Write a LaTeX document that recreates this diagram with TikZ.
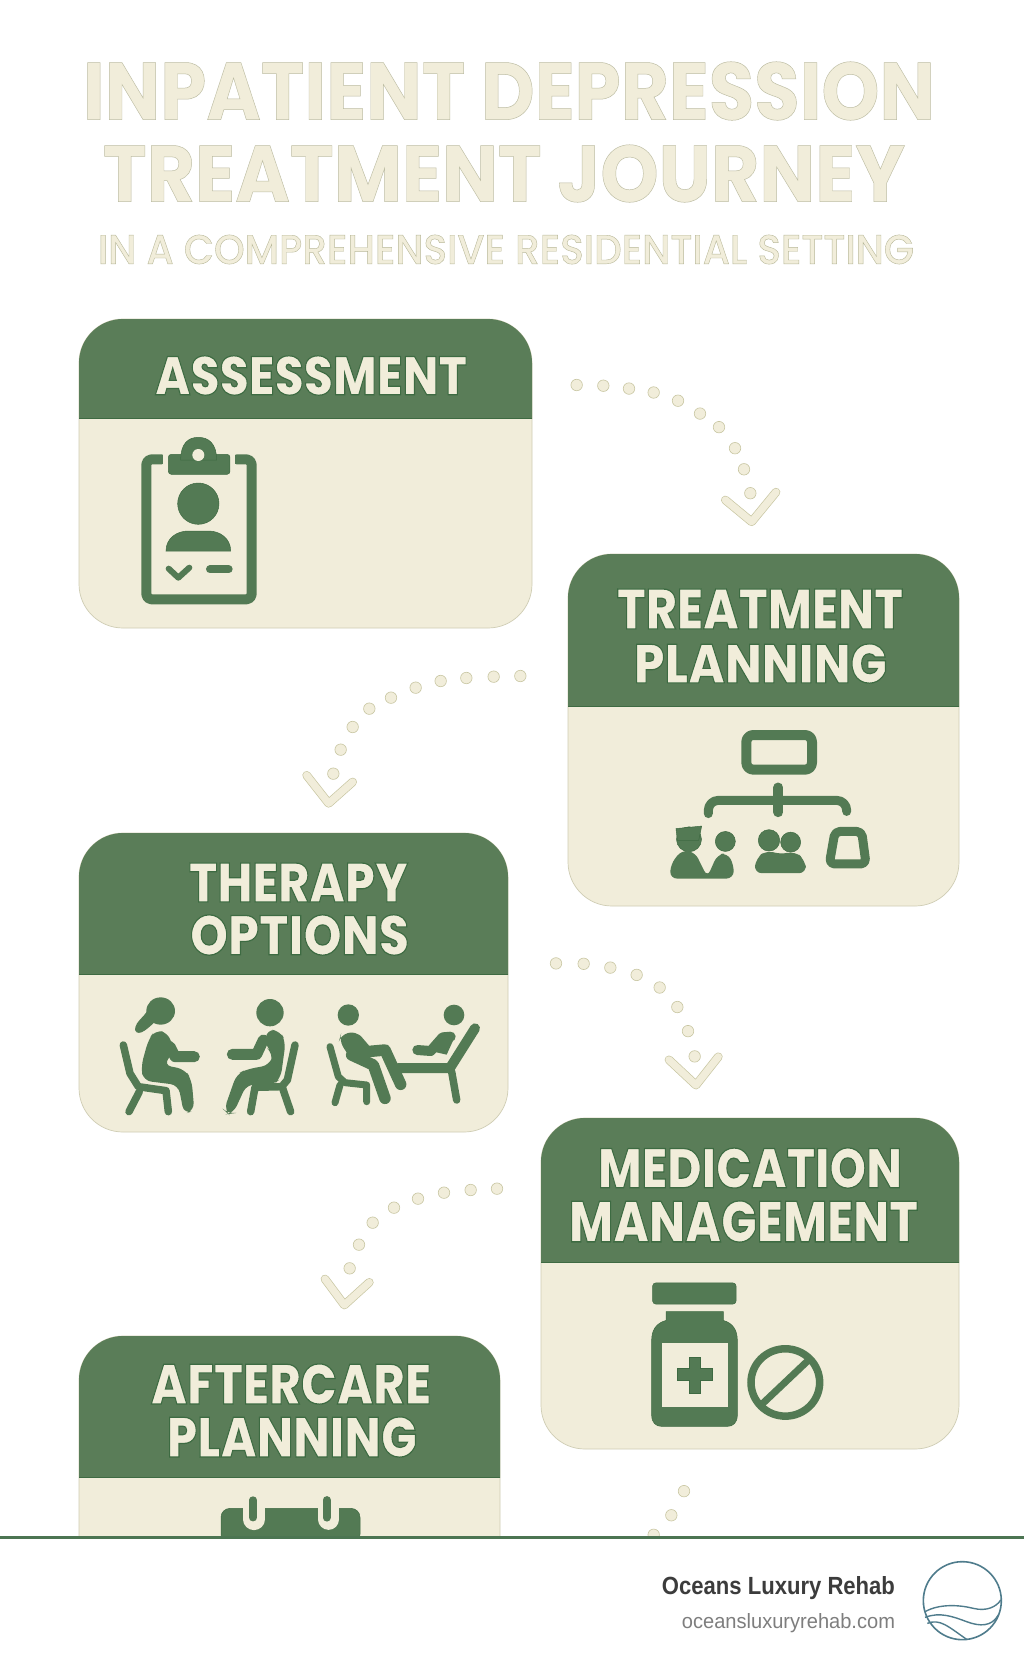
\documentclass[tikz,border=0pt]{standalone}
\usepackage{fontspec}
\usepackage{graphicx}
\setmainfont{Poppins}
\newfontfamily\heavyfont{Poppins ExtraBold}
\newfontfamily\medfont{Poppins Medium}
\newfontfamily\footfont{Liberation Sans}
\definecolor{cream}{HTML}{F1EDDA}
\definecolor{hgreen}{HTML}{5A7D58}
\definecolor{igreen}{HTML}{537A54}
\definecolor{dgreen}{HTML}{3E6A42}
\definecolor{edgeline}{HTML}{CFCDB4}
\definecolor{dotedge}{HTML}{C8C6A2}
\definecolor{footline}{HTML}{4C7552}
\definecolor{inkdark}{HTML}{3C3C3C}
\definecolor{inkgrey}{HTML}{7E7E7E}
\definecolor{logoblue}{HTML}{4F7C8C}
\newcommand{\olhead}[1]{{\color{cream}\special{pdf:code 2 Tr 0.22 w 0.24 0.42 0.26 RG}#1\special{pdf:code 0 Tr}}}
\newcommand{\oltitle}[1]{{\color{cream}\special{pdf:code 2 Tr 0.06 w 0.74 0.74 0.64 RG}#1\special{pdf:code 0 Tr}}}
\newcommand{\olsub}[1]{{\color{cream}\special{pdf:code 2 Tr 0.1 w 0.72 0.72 0.6 RG}#1\special{pdf:code 0 Tr}}}
\newcommand{\fitlabel}[6]{%
  \pgfmathsetmacro\fitw{#4-#2}\pgfmathsetmacro\fith{#5-#3}%
  \node[textfit] (#1) at ({(#2+#4)/2},{(#3+#5)/2}) {\resizebox{\fitw pt}{\fith pt}{#6}};}
\newcommand{\cardbox}[5]{%
  \fill[cream,draw=edgeline,line width=.7pt,rounded corners=44pt] (#1,#2) rectangle (#3,#4);
  \begin{scope}
    \clip (#1-1,#2-1) rectangle (#3+1,#5);
    \fill[hgreen,rounded corners=44pt] (#1,#2) rectangle (#3,#4);
  \end{scope}
  \draw[dgreen,line width=1pt] (#1,#5) -- (#3,#5);}
\tikzset{
  textfit/.style={inner sep=0pt,outer sep=0pt},
  trail/.style={circle,fill=cream,draw=dotedge,line width=.6pt,minimum size=11.5pt,inner sep=0pt},
  chevout/.style={draw=dotedge,line width=8.6pt,line cap=round,line join=round},
  chevin/.style={draw=cream,line width=7.2pt,line cap=round,line join=round},
  zoomat/.style n args={3}{xshift=#1pt,yshift=-#2pt,x=0.33333pt,y=-#3pt},
  icon/.style={fill=igreen,draw=dgreen,line width=.5pt},
  iconline/.style={draw=igreen,line cap=round,line join=round},
}
\begin{document}
\begin{tikzpicture}[x=1pt,y=-1pt]
\useasboundingbox (0,0) rectangle (1024,1666);
\fill[white] (0,0) rectangle (1024,1666);

% title
\fitlabel{title1}{83}{62}{935}{120}{\oltitle{\textbf{INPATIENT DEPRESSION}}}
\fitlabel{title2}{103}{145}{905}{202}{\oltitle{\textbf{TREATMENT JOURNEY}}}
\fitlabel{title3}{98}{235}{914}{264}{\olsub{\medfont IN A COMPREHENSIVE RESIDENTIAL SETTING}}

% cards
\cardbox{79}{319}{532}{628}{418}
\cardbox{568}{554}{959}{906}{706}
\cardbox{79}{833}{508}{1132}{974}
\cardbox{541}{1118}{959}{1449}{1262}
\cardbox{79}{1336}{500}{1620}{1477}

\fitlabel{assess}{155}{356}{467}{395}{\olhead{\heavyfont ASSESSMENT}}
\fitlabel{treat}{617}{589}{903}{629}{\olhead{\heavyfont TREATMENT}}
\fitlabel{plan}{634}{644}{887}{683}{\olhead{\heavyfont PLANNING}}
\fitlabel{therapy}{189}{863}{408}{902}{\olhead{\heavyfont THERAPY}}
\fitlabel{options}{190}{915}{409}{955}{\olhead{\heavyfont OPTIONS}}
\fitlabel{medic}{598}{1148}{902}{1188}{\olhead{\heavyfont MEDICATION}}
\fitlabel{manage}{569}{1201}{918}{1242}{\olhead{\heavyfont MANAGEMENT}}
\fitlabel{after}{151}{1364}{431}{1404}{\olhead{\heavyfont AFTERCARE}}
\fitlabel{plan2}{167}{1417}{417}{1457}{\olhead{\heavyfont PLANNING}}

% clipboard icon
\begin{scope}[zoomat={60}{300}{0.33333}]
  \draw[iconline,line width=10pt,rounded corners=5pt] (305,478) -- (259,478) -- (259,898) -- (575,898) -- (575,478) -- (530,478);
  \fill[cream] (310,450) rectangle (525,535);
  \fill[icon,rounded corners=3pt] (325,463) rectangle (510,523);
  \fill[icon] (362,480) .. controls (362,430) and (385,412) .. (415,412) .. controls (445,412) and (470,430) .. (470,480) -- cycle;
  \fill[cream] (415,465) circle (18);
  \fill[icon] (415,611) circle (62);
  \fill[icon] (318,753) .. controls (318,715) and (350,693) .. (385,693) -- (445,693) .. controls (480,693) and (512,715) .. (512,753) -- cycle;
  \draw[iconline,line width=6pt] (326,806) -- (355,833) -- (388,803);
  \draw[iconline,line width=8pt] (450,808) -- (506,808);
\end{scope}

% treatment planning icon
\begin{scope}[zoomat={540}{360}{0.35714}]
  \draw[iconline,line width=10pt,rounded corners=7pt] (619,1050) rectangle (816,1147);
  \draw[iconline,line width=10pt] (715,1197) -- (715,1266);
  \draw[iconline,line width=9pt,rounded corners=10pt] (505,1270) -- (505,1233) -- (920,1233) -- (920,1264);
  % left pair
  \fill[icon] (447,1342) circle (12.5pt);
  \fill[icon] (408,1312) -- (485,1305) -- (476,1345) -- (412,1345) -- cycle;
  \fill[igreen,rounded corners=7pt] (390,1452) -- (392,1412) -- (425,1372) -- (465,1378) -- (502,1448) -- (532,1385) -- (562,1380) -- (582,1415) -- (580,1452) -- cycle;
  \fill[icon] (556,1348) circle (10pt);
  % middle pair
  \fill[icon] (687,1345) circle (10.7pt);
  \fill[icon] (752,1350) circle (10pt);
  \fill[igreen,rounded corners=8pt] (642,1437) -- (648,1395) -- (680,1372) -- (720,1385) -- (765,1375) -- (795,1400) -- (800,1437) -- cycle;
  % trapezoid
  \draw[iconline,line width=9pt,rounded corners=5pt] (885,1320) -- (965,1320) -- (978,1411) -- (868,1411) -- cycle;
\end{scope}

% therapy icons
\begin{scope}[zoomat={60}{650}{0.33333}]
  % woman
  \fill[igreen] (302,1083) ellipse (43 and 41);
  \fill[igreen] (272,1060) .. controls (262,1100) and (225,1110) .. (225,1140) .. controls (235,1165) and (270,1130) .. (290,1110) -- cycle;
  \fill[igreen,rounded corners=8pt] (285,1140) -- (325,1148) -- (342,1205) -- (310,1245) -- (375,1258) -- (395,1290) -- (403,1382) -- (372,1392) -- (355,1305) -- (250,1292) -- (243,1250) -- (265,1170) -- cycle;
  \draw[iconline,line width=11pt] (330,1190) -- (345,1220) -- (403,1220);
  \draw[iconline,line width=7.5pt] (190,1185) -- (210,1270) -- (235,1310) -- (318,1322) -- (325,1385);
  \draw[iconline,line width=7.5pt] (238,1325) -- (207,1385);
  % man
  \fill[igreen] (630,1088) circle (41);
  \fill[igreen,rounded corners=8pt] (620,1138) -- (660,1142) -- (677,1175) -- (662,1285) -- (640,1305) -- (560,1303) -- (520,1390) -- (505,1392) -- (492,1380) -- (530,1272) -- (560,1258) -- (630,1245) -- (640,1210) -- (615,1190) -- cycle;
  \draw[iconline,line width=11pt] (610,1170) -- (590,1213) -- (517,1213);
  \draw[iconline,line width=7.5pt] (705,1185) -- (682,1290) -- (665,1310) -- (585,1312) -- (572,1385);
  \draw[iconline,line width=7.5pt] (668,1315) -- (692,1385);
  % seated third
  \fill[igreen] (865,1095) circle (32);
  \fill[igreen,rounded corners=7pt] (842,1155) -- (888,1143) -- (925,1190) -- (890,1240) -- (860,1210) -- (838,1170) -- cycle;
  \draw[iconline,line width=11.5pt] (890,1170) -- (920,1205) -- (975,1200) -- (1022,1303);
  \draw[iconline,line width=11.5pt] (875,1215) -- (940,1245) -- (975,1345);
  \draw[iconline,line width=7pt] (810,1190) -- (835,1280) -- (855,1298) -- (920,1305) -- (920,1355);
  \draw[iconline,line width=7pt] (840,1305) -- (825,1358);
  % couch
  \fill[igreen] (1182,1095) circle (31);
  \draw[iconline,line width=10pt] (1072,1200) -- (1112,1203) -- (1148,1162) -- (1172,1160);
  \fill[igreen] (1112,1203) -- (1150,1150) -- (1180,1170) -- (1160,1214) -- cycle;
  \draw[iconline,line width=10pt] (1015,1254) -- (1170,1254) -- (1245,1135);
  \draw[iconline,line width=7.5pt] (1175,1265) -- (1190,1350);
\end{scope}

% medication icon
\begin{scope}[zoomat={530}{950}{0.3827}]
  \fill[icon,rounded corners=3pt] (368,870) rectangle (618,925);
  \fill[icon] (408,945) -- (580,945) -- (580,968) .. controls (610,975) and (622,995) .. (622,1020) -- (622,1215) .. controls (622,1235) and (610,1245) .. (590,1245) -- (397,1245) .. controls (377,1245) and (365,1235) .. (365,1215) -- (365,1020) .. controls (365,995) and (377,975) .. (408,968) -- cycle;
  \fill[cream] (395,1027) rectangle (595,1193);
  \fill[icon] (442,1093) -- (478,1093) -- (478,1065) -- (512,1065) -- (512,1093) -- (547,1093) -- (547,1125) -- (512,1125) -- (512,1157) -- (478,1157) -- (478,1125) -- (442,1125) -- cycle;
  \draw[igreen,line width=7.5pt] (766,1130) ellipse (103 and 88);
  \draw[igreen,line width=7pt] (698,1185) -- (835,1072);
\end{scope}

% calendar icon
\begin{scope}[zoomat={210}{1480}{0.33333}]
  \fill[icon,rounded corners=9pt] (33,190) -- (33,85) -- (450,85) -- (450,190) -- cycle;
  \draw[cream,line width=21.5pt,line cap=round] (132,40) -- (132,118);
  \draw[cream,line width=21pt,line cap=round] (356,40) -- (356,118);
  \draw[iconline,line width=7.4pt] (129,60) -- (129,113);
  \draw[iconline,line width=7.8pt] (350,60) -- (350,113);
\end{scope}

% trail 1: Assessment to Treatment Planning
\begin{scope}[zoomat={540}{360}{0.35714}]
  \foreach \n/\p/\q in {1/110/70,2/190/72,3/267/80,4/341/91,5/414/114,6/480/150,7/537/188,8/585/247,9/612/306}
    \node[trail] (ta\n) at (\p,\q) {};
  \coordinate (ca1) at (556,392); \coordinate (ca2) at (635,453); \coordinate (ca3) at (708,370);
  \draw[chevout] (ca1) -- (ca2) -- (ca3);
  \draw[chevin] (ca1) -- (ca2) -- (ca3);
  \node[trail] (ta10) at (631,373) {};
\end{scope}

% trail 2: Treatment Planning to Therapy Options
\begin{scope}[zoomat={60}{650}{0.33333}]
  \foreach \n/\p/\q in {1/1381/78,2/1301/80,3/1219/84,4/1142/93,5/1067/113,6/993/143,7/928/176,8/878/231,9/842/299,10/820/371}
    \node[trail] (tb\n) at (\p,\q) {};
  \coordinate (cb1) at (740,376); \coordinate (cb2) at (806,460); \coordinate (cb3) at (878,396);
  \draw[chevout] (cb1) -- (cb2) -- (cb3);
  \draw[chevin] (cb1) -- (cb2) -- (cb3);
\end{scope}

% trail 3: Therapy Options to Medication Management, and the start of the next
\begin{scope}[zoomat={530}{950}{0.3827}]
  \foreach \n/\p/\q in {1/78/35,2/161/36,3/241/46,4/320/65,5/389/98,6/442/149,7/474/212}
    \node[trail] (tc\n) at (\p,\q) {};
  \coordinate (cc1) at (417,287); \coordinate (cc2) at (498,353); \coordinate (cc3) at (565,279);
  \draw[chevout] (cc1) -- (cc2) -- (cc3);
  \draw[chevin] (cc1) -- (cc2) -- (cc3);
  \node[trail] (tc8) at (494,278) {};
  \node[trail] (te1) at (462,1414) {};
  \node[trail] (te2) at (424,1477) {};
  \node[trail] (te3) at (371,1528) {};
\end{scope}

% trail 4: Medication Management to Aftercare Planning
\begin{scope}[zoomat={60}{1170}{0.33333}]
  \foreach \n/\p/\q in {1/1311/56,2/1232/60,3/1152/68,4/1074/86,5/1002/113,6/938/158,7/897/224,8/869/295}
    \node[trail] (td\n) at (\p,\q) {};
  \coordinate (cd1) at (795,327); \coordinate (cd2) at (853,405); \coordinate (cd3) at (928,337);
  \draw[chevout] (cd1) -- (cd2) -- (cd3);
  \draw[chevin] (cd1) -- (cd2) -- (cd3);
\end{scope}

% footer
\fill[white] (0,1537) rectangle (1024,1666);
\draw[footline,line width=3pt] (0,1537.5) -- (1024,1537.5);
\node[textfit,anchor=base east,inkdark,font=\footfont\bfseries] (brand) at (895,1594) {\resizebox{233pt}{18pt}{Oceans Luxury Rehab}};
\node[textfit,anchor=base east,inkgrey,font=\footfont] (site) at (895,1628) {\resizebox{213pt}{15pt}{oceansluxuryrehab.com}};
\begin{scope}[zoomat={620}{1480}{0.33333}]
  \draw[logoblue,line width=1.6pt] (1027,362) circle (117);
  \draw[logoblue,line width=1.4pt] (915,395) .. controls (960,370) and (1020,375) .. (1060,385) .. controls (1100,395) and (1130,380) .. (1142,360);
  \draw[logoblue,line width=1.4pt] (915,412) .. controls (960,395) and (1000,410) .. (1040,425) .. controls (1080,440) and (1115,440) .. (1135,405);
  \draw[logoblue,line width=1.4pt] (922,430) .. controls (960,415) and (985,440) .. (1040,478);
\end{scope}
\end{tikzpicture}
\end{document}
